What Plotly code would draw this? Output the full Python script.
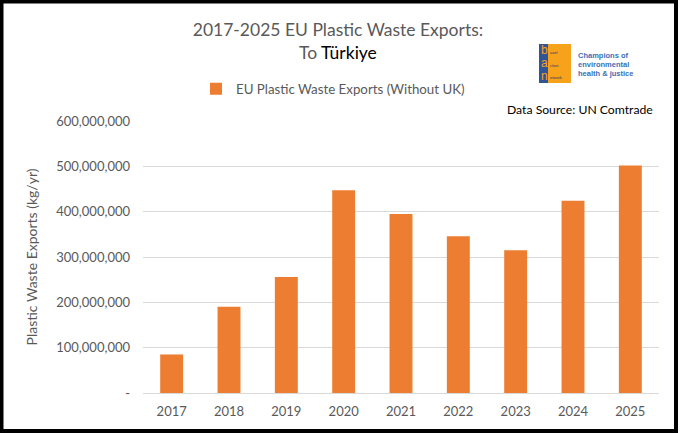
import plotly.graph_objects as go

# data
years = ["2017", "2018", "2019", "2020", "2021", "2022", "2023", "2024", "2025"]
exports_kg = [85e6, 190e6, 256e6, 447e6, 395e6, 346e6, 315e6, 424e6, 502e6]

y_tickvals = [0, 100e6, 200e6, 300e6, 400e6, 500e6, 600e6]
y_ticktext = ["-", "100,000,000", "200,000,000", "300,000,000",
              "400,000,000", "500,000,000", "600,000,000"]

W, H = 680, 433
L, R, T, B = 143, 21, 121, 40
GRAY = "#595959"
ORANGE = "#ED7D31"
BLUE = "#3A6FB5"
FONT = "Lato"


def px(x):
    return (x - L) / (W - L - R)


def py(y):
    return 1 - (y - T) / (H - T - B)


fig = go.Figure()

fig.add_bar(
    x=years,
    y=exports_kg,
    marker_color=ORANGE,
    marker_line_width=0,
    name="EU Plastic Waste Exports (Without UK)")

fig.update_layout(
    width=W, height=H,
    margin=dict(l=L, r=R, t=T, b=B),
    paper_bgcolor="white",
    plot_bgcolor="white",
    font=dict(family=FONT, color=GRAY, size=13),
    bargap=0.6,
    title=dict(
        text="2017-2025 EU Plastic Waste Exports:<br>To <span style='color:black'>Türkiye</span>",
        x=0.497, xanchor="center",
        y=1 - 36 / H, yanchor="middle",
        font=dict(family=FONT, size=17.5, color=GRAY)),
    showlegend=True,
    legend=dict(
        orientation="h",
        xref="paper", yref="paper",
        x=px(196), xanchor="left",
        y=py(89), yanchor="middle",
        font=dict(family=FONT, size=13.3, color=GRAY),
        itemwidth=30),
)

fig.update_yaxes(
    range=[0, 600e6],
    tickvals=y_tickvals,
    ticktext=y_ticktext,
    showgrid=True,
    gridcolor="#D9D9D9",
    gridwidth=1,
    zeroline=False,
    ticks="",
    ticklabelstandoff=12,
    tickfont=dict(size=13, color=GRAY),
    title=dict(text="Plastic Waste Exports (kg/yr)",
               font=dict(size=14, color=GRAY), standoff=15))

fig.update_xaxes(
    showline=True,
    linecolor="#D9D9D9",
    linewidth=1,
    ticks="",
    ticklabelstandoff=6,
    tickfont=dict(size=13, color=GRAY))

# data source note
fig.add_annotation(
    text="Data Source: UN Comtrade",
    xref="paper", yref="paper",
    x=px(505), y=py(110), xanchor="left", yanchor="middle",
    showarrow=False,
    font=dict(family=FONT, size=12.2, color="black"))

# BAN logo, roughly
fig.add_shape(type="rect", xref="paper", yref="paper",
              x0=px(539), x1=px(548), y0=py(83), y1=py(44),
              fillcolor="#2F5597", line_width=0)
fig.add_shape(type="rect", xref="paper", yref="paper",
              x0=px(548), x1=px(571), y0=py(83), y1=py(44),
              fillcolor="#F7A21B", line_width=0)
for letter, small, yy in [("b", "asel", 50), ("a", "ction", 63), ("n", "etwork", 76)]:
    fig.add_annotation(text=letter, xref="paper", yref="paper",
                       x=px(544), y=py(yy), xanchor="center", yanchor="middle",
                       showarrow=False, borderpad=0,
                       font=dict(family="Liberation Sans", size=12, color="#F7A21B"))
    fig.add_annotation(text=small, xref="paper", yref="paper",
                       x=px(549), y=py(yy + 2), xanchor="left", yanchor="middle",
                       showarrow=False, borderpad=0,
                       font=dict(family="Liberation Sans", size=4, color="#1F3864"))
for line, yy in [("Champions of", 55), ("environmental", 64.5), ("health &amp; justice", 74)]:
    fig.add_annotation(text="<b>" + line + "</b>", xref="paper", yref="paper",
                       x=px(577), y=py(yy), xanchor="left", yanchor="middle",
                       showarrow=False, borderpad=0,
                       font=dict(family="Liberation Sans", size=7.5, color=BLUE))

# black frame around the chart
fig.add_shape(type="rect", xref="paper", yref="paper",
              x0=px(1.5), x1=px(676), y0=py(431), y1=py(1.5),
              line=dict(color="black", width=4), fillcolor="rgba(0,0,0,0)")

fig.write_html("out.html",
               config={"displayModeBar": False},
               post_script="document.body.style.margin='0';document.body.style.overflow='hidden';")
